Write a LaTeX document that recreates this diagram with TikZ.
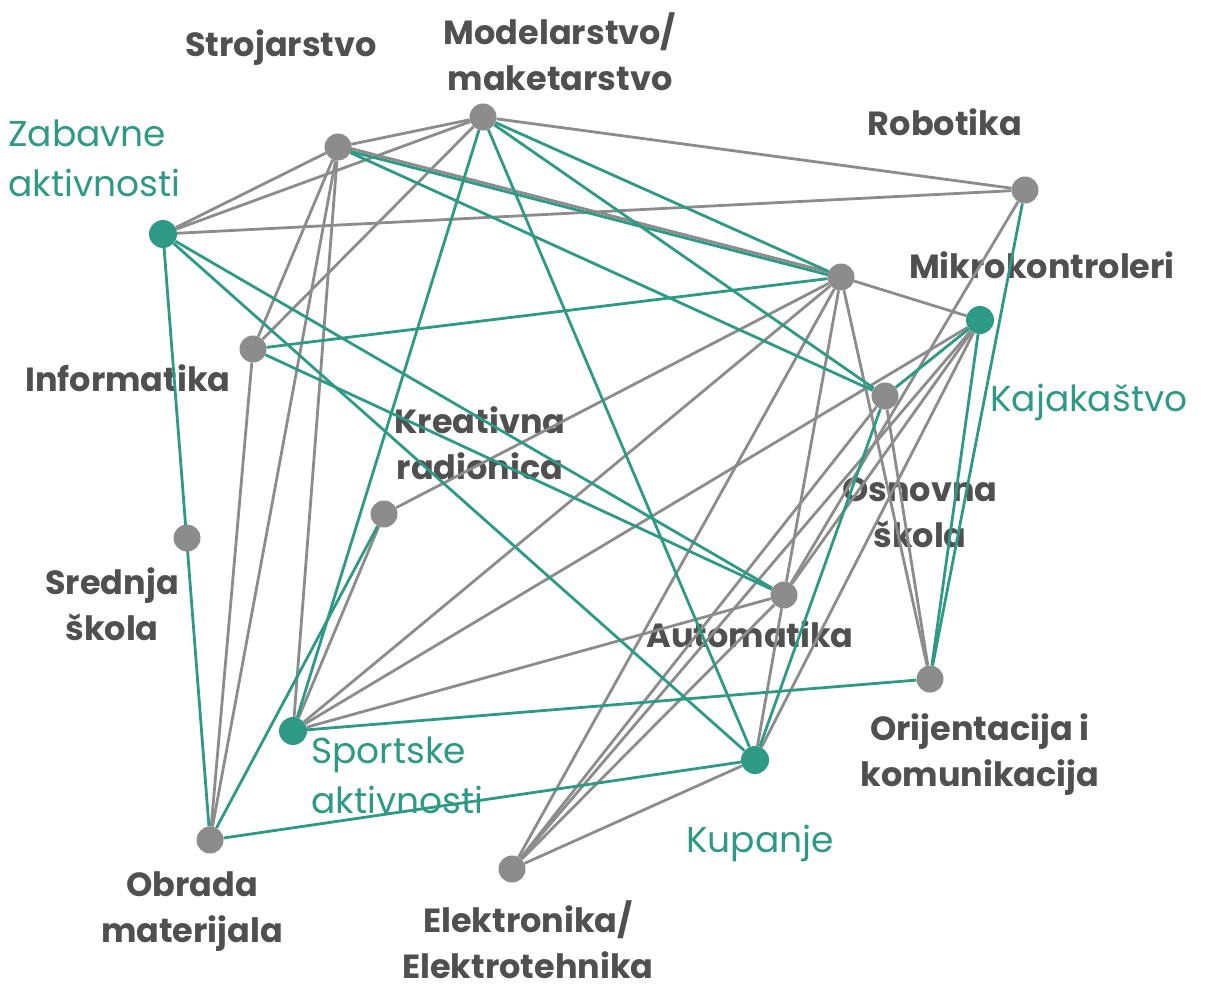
\documentclass[tikz,border=0pt]{standalone}
\usepackage{fontspec}
\setmainfont{Poppins}
\definecolor{gl}{HTML}{8C8C8C}
\definecolor{tl}{HTML}{2E9A86}
\definecolor{lb}{HTML}{505050}
\pgfdeclarelayer{lbl}
\pgfdeclarelayer{bg}
\pgfsetlayers{lbl,bg,main}
\begin{document}
\begin{tikzpicture}[x=1pt,y=-1pt,
  gedge/.style={draw=gl, line width=2.8pt},
  tedge/.style={draw=tl, line width=2.8pt},
  gdot/.style={circle, fill=gl, minimum size=27pt, inner sep=0pt},
  tdot/.style={circle, fill=tl, minimum size=28pt, inner sep=0pt},
  glab/.style={text=lb, font=\fontsize{33.5}{46}\selectfont\bfseries, align=center, inner sep=0pt},
  tlab/.style={text=tl, font=\fontsize{36}{50}\selectfont, align=left, inner sep=0pt, anchor=west}]
\useasboundingbox (0,0) rectangle (1211,990);
% nodes
\node[gdot] (MO) at (483,117) {};
\node[gdot] (ST) at (338,147) {};
\node[tdot] (ZA) at (163,234) {};
\node[gdot] (RO) at (1025,190) {};
\node[gdot] (MK) at (841,277) {};
\node[tdot] (KA) at (980,320) {};
\node[gdot] (IN) at (253,349) {};
\node[gdot] (OS) at (885,396) {};
\node[gdot] (KR) at (384,514) {};
\node[gdot] (SR) at (187,538) {};
\node[gdot] (AU) at (784,595) {};
\node[gdot] (OR) at (930,679) {};
\node[tdot] (SP) at (293,731) {};
\node[tdot] (KU) at (755,760) {};
\node[gdot] (OB) at (210,840) {};
\node[gdot] (EL) at (512,869) {};
% labels
\begin{pgfonlayer}{lbl}
\node[glab] (lST) at (281,48) {Strojarstvo};
\node[glab] (lMO) at (560,52) {Modelarstvo/\\maketarstvo};
\node[glab] (lRO) at (945,122) {Robotika};
\node[tlab] (lZA) at (8,158) {Zabavne\\aktivnosti};
\node[glab] (lMK) at (1042,265) {Mikrokontroleri};
\node[glab] (lIN) at (128,378) {Informatika};
\node[tlab] (lKA) at (990,402) {Kajakaštvo};
\node[glab] (lKR) at (480,443) {Kreativna\\radionica};
\node[glab] (lOS) at (920,513) {Osnovna\\škola};
\node[glab] (lSR) at (112,604) {Srednja\\škola};
\node[glab] (lAU) at (750,634) {Automatika};
\node[glab] (lOR) at (980,755) {Orijentacija i\\komunikacija};
\node[tlab] (lSP) at (311,775) {Sportske\\aktivnosti};
\node[tlab] (lKU) at (686,843) {Kupanje};
\node[glab] (lOB) at (192,912) {Obrada\\materijala};
\node[glab] (lEL) at (528,940) {Elektronika/\\Elektrotehnika};
\end{pgfonlayer}
% edges
\begin{pgfonlayer}{bg}
\foreach \a/\b in {MO/ST, ZA/ST, ZA/MO, ZA/RO, MO/RO, MO/IN, ST/IN, IN/OB, ST/OB, ST/SP,
  KR/SP, KR/MK, MK/KA, RO/AU, MK/SP, MK/EL, MK/AU, AU/KU, MK/OR, KA/SP, KA/EL, KA/AU, KA/KU,
  OS/OR, OS/EL, SP/AU, EL/AU, EL/KU}
  \draw[gedge] (\a) -- (\b);
\draw[gedge] ([yshift=1.8pt]ST.center) -- ([yshift=1.8pt]MK.center);
\foreach \a/\b in {ZA/OB, ZA/AU, ZA/KU, IN/MK, IN/AU, MO/SP, MO/KU, MO/MK, MO/OS, ST/OS,
  OB/KR, OB/KU, SP/OR, KA/OS, OS/KU, RO/OR, KA/OR}
  \draw[tedge] (\a) -- (\b);
\draw[tedge] ([yshift=-1.2pt]ST.center) -- ([yshift=-1.2pt]MK.center);
\end{pgfonlayer}
\end{tikzpicture}
\end{document}
